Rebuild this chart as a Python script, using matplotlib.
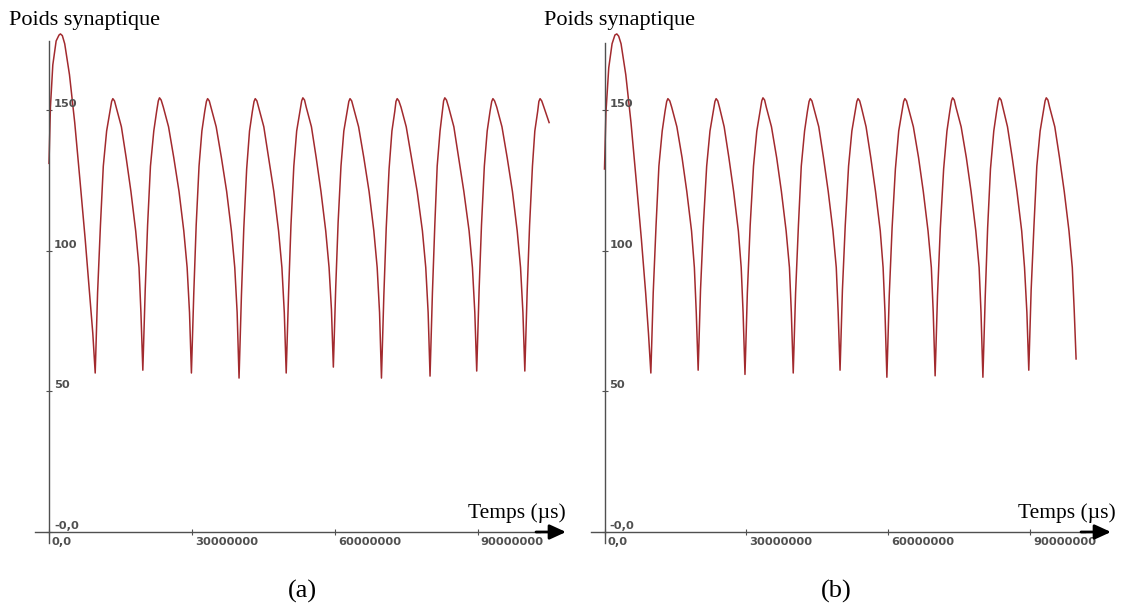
import numpy as np
import matplotlib
matplotlib.use("Agg")
import matplotlib.pyplot as plt
from matplotlib.patches import FancyArrowPatch

# ---- data: synaptic weight versus time (time in millions of microseconds) ----
t_a = [0.0, 0.3, 0.8, 1.5, 2.1, 2.4, 2.8, 3.3, 4.3, 5.4, 6.5, 7.6, 8.5, 9.2, 9.7,
       10.2, 10.8, 11.4, 12.1, 12.8, 13.15, 13.4, 13.75, 14.1, 15.2, 16.2, 17.2, 18.2, 18.9, 19.3, 19.7,
       20.2, 20.7, 21.3, 22.0, 22.6, 22.95, 23.2, 23.55, 24.0, 25.1, 26.2, 27.3, 28.3, 29.0, 29.5, 29.9,
       30.4, 30.9, 31.5, 32.1, 32.7, 33.05, 33.3, 33.65, 34.0, 35.1, 36.2, 37.3, 38.3, 39.0, 39.5, 39.9,
       40.4, 40.9, 41.5, 42.1, 42.7, 43.05, 43.3, 43.65, 44.0, 45.1, 46.1, 47.2, 48.2, 48.9, 49.4, 49.8,
       50.3, 50.8, 51.4, 52.0, 52.7, 53.05, 53.3, 53.65, 54.0, 55.1, 56.1, 57.1, 58.1, 58.8, 59.3, 59.7,
       60.2, 60.7, 61.3, 61.9, 62.6, 62.95, 63.2, 63.55, 63.9, 65.0, 66.1, 67.2, 68.2, 68.9, 69.4, 69.8,
       70.3, 70.8, 71.4, 72.0, 72.6, 72.85, 73.1, 73.45, 73.9, 75.0, 76.1, 77.3, 78.4, 79.1, 79.6, 80.0,
       80.5, 81.0, 81.5, 82.1, 82.6, 82.85, 83.1, 83.45, 83.9, 85.0, 86.0, 87.1, 88.2, 88.9, 89.4, 89.8,
       90.3, 90.8, 91.4, 92.0, 92.6, 92.95, 93.2, 93.55, 94.0, 95.1, 96.2, 97.3, 98.3, 99.0, 99.5, 99.9,
       100.4, 100.9, 101.5, 102.0, 102.6, 102.85, 103.1, 103.45, 103.9, 105.0]
w_a = [131, 151, 166, 174.5, 176.6, 177, 176.4, 173.5, 162.5, 145.5, 125, 104, 85, 70.5, 56.5,
       85, 109, 130, 142.5, 149.5, 153, 154, 153.2, 151, 144, 133, 121, 107, 94, 78, 57.5,
       86, 109, 130, 142.5, 149.5, 153.2, 154.3, 153.5, 151, 144, 133, 121, 107, 94, 78, 56.5,
       85, 109, 130, 142.5, 149.5, 153, 154, 153.2, 151, 144, 133, 121, 107, 94, 78, 54.7,
       84, 108, 129, 142.5, 149.5, 153, 154, 153.2, 151, 144, 133, 121, 107, 94, 78, 56.5,
       85, 109, 130, 142.5, 149.5, 153.2, 154.3, 153.5, 151, 144, 133, 121, 107, 94, 79, 58.6,
       87, 110, 130, 142.5, 149.5, 153, 154, 153.2, 151, 144, 133, 121, 107, 94, 78, 54.7,
       84, 108, 129, 142.5, 149.5, 153, 154, 153.2, 151, 144, 133, 121, 107, 94, 78, 55.4,
       85, 109, 130, 142.5, 149.5, 153.2, 154.3, 153.5, 151, 144, 133, 121, 107, 94, 78, 57.2,
       86, 109, 130, 142.5, 149.5, 153, 154, 153.2, 151, 144, 133, 121, 107, 94, 78, 57.2,
       86, 109, 130, 142.5, 149.5, 153, 154, 153.2, 151, 145.5]

t_b = [0.0, 0.3, 0.9, 1.6, 2.2, 2.6, 3.0, 3.5, 4.5, 5.6, 6.7, 7.8, 8.7, 9.3, 9.8,
       10.3, 10.9, 11.5, 12.2, 12.8, 13.15, 13.4, 13.8, 14.2, 15.3, 16.4, 17.4, 18.4, 19.0, 19.4, 19.8,
       20.3, 20.9, 21.6, 22.3, 23.0, 23.35, 23.6, 23.95, 24.3, 25.3, 26.3, 27.3, 28.3, 28.9, 29.3, 29.7,
       30.2, 30.8, 31.5, 32.2, 32.9, 33.25, 33.5, 33.85, 34.2, 35.3, 36.4, 37.4, 38.4, 39.1, 39.5, 39.9,
       40.4, 41.0, 41.6, 42.3, 42.9, 43.25, 43.5, 43.85, 44.2, 45.3, 46.3, 47.3, 48.3, 49.0, 49.4, 49.8,
       50.3, 50.9, 51.6, 52.3, 53.0, 53.35, 53.6, 53.95, 54.3, 55.3, 56.3, 57.3, 58.3, 58.9, 59.3, 59.7,
       60.2, 60.8, 61.5, 62.2, 62.9, 63.25, 63.5, 63.85, 64.2, 65.3, 66.4, 67.4, 68.4, 69.1, 69.5, 69.9,
       70.4, 71.0, 71.7, 72.4, 73.0, 73.35, 73.6, 73.95, 74.3, 75.4, 76.5, 77.5, 78.5, 79.2, 79.6, 80.0,
       80.5, 81.0, 81.6, 82.3, 82.9, 83.25, 83.5, 83.85, 84.2, 85.2, 86.2, 87.2, 88.2, 88.8, 89.3, 89.7,
       90.2, 90.8, 91.4, 92.1, 92.8, 93.15, 93.4, 93.75, 94.1, 95.2, 96.2, 97.2, 98.2, 98.9, 99.3, 99.7]
w_b = [129, 149, 165, 173.5, 176.6, 177, 176.2, 173.5, 162.5, 145.5, 125, 104, 85, 70.5, 56.5,
       85, 109, 130, 142.5, 149.5, 153, 154, 153.2, 151, 144, 133, 121, 107, 94, 78, 57.5,
       86, 109, 130, 142.5, 149.5, 153, 154, 153.2, 151, 144, 133, 121, 107, 94, 78, 56,
       85, 109, 130, 142.5, 149.5, 153.2, 154.3, 153.5, 151, 144, 133, 121, 107, 94, 78, 56.5,
       85, 109, 130, 142.5, 149.5, 153, 154, 153.2, 151, 144, 133, 121, 107, 94, 78, 57.5,
       86, 109, 130, 142.5, 149.5, 153, 154, 153.2, 151, 144, 133, 121, 107, 94, 78, 55,
       84, 108, 129, 142.5, 149.5, 153, 154, 153.2, 151, 144, 133, 121, 107, 94, 78, 55.5,
       84, 108, 129, 142.5, 149.5, 153.2, 154.3, 153.5, 151, 144, 133, 121, 107, 94, 78, 55,
       84, 108, 129, 142.5, 149.5, 153.2, 154.3, 153.5, 151, 144, 133, 121, 107, 94, 78, 57.5,
       86, 109, 130, 142.5, 149.5, 153.2, 154.3, 153.5, 151, 144, 133, 121, 107, 94, 79, 61.5]

x_ticks = [0, 30e6, 60e6, 90e6]
x_tick_labels = ["0,0", "30000000", "60000000", "90000000"]
y_ticks = [0, 50, 100, 150]
y_tick_labels = ["-0,0", "50", "100", "150"]

y_title = "Poids synaptique"
x_title = "Temps (\u00b5s)"
panel_tags = ["(a)", "(b)"]

# ---- layout (pixels) ----
W, H = 1126, 610
Y_ZERO_PX = 532.0
PX_PER_UNIT = 2.814
SERIF = "Liberation Serif"
AXIS_GREY = "#505050"
CURVE = "#a22a2e"

fig = plt.figure(figsize=(W / 100, H / 100), dpi=100)
fig.patch.set_facecolor("white")


def draw_panel(t, w, x0_px, px_per_Mus, x_end_px, y_top_px, title_x, xlabel_x, tag_x, tag):
    ax = fig.add_axes([0, 0, 1, 1])
    ax.patch.set_visible(False)
    ax.set_xlim(-x0_px / px_per_Mus * 1e6, (W - x0_px) / px_per_Mus * 1e6)
    ax.set_ylim((Y_ZERO_PX - H) / PX_PER_UNIT, Y_ZERO_PX / PX_PER_UNIT)

    def px_to_t(px):
        return (px - x0_px) / px_per_Mus * 1e6

    def px_to_w(py):
        return (Y_ZERO_PX - py) / PX_PER_UNIT

    for s in ("top", "right"):
        ax.spines[s].set_visible(False)
    ax.spines["left"].set_position(("data", 0))
    ax.spines["bottom"].set_position(("data", 0))
    ax.spines["left"].set_bounds(px_to_w(543), px_to_w(y_top_px))
    ax.spines["bottom"].set_bounds(px_to_t(x0_px - 14), px_to_t(x_end_px))
    for s in ("left", "bottom"):
        ax.spines[s].set_color(AXIS_GREY)
        ax.spines[s].set_linewidth(1.0)

    ax.set_xticks(x_ticks)
    ax.set_yticks(y_ticks)
    ax.tick_params(direction="inout", length=5, width=0.8, color=AXIS_GREY,
                   labelbottom=False, labelleft=False)

    ax.plot(np.asarray(t) * 1e6, w, color=CURVE, lw=1.1, solid_joinstyle="round")

    lab = dict(family="DejaVu Sans", fontsize=8.2, fontweight="bold", color="#505050")
    for xv, s in zip(x_ticks, x_tick_labels):
        ax.annotate(s, xy=(xv, 0), xytext=(3, -5), textcoords="offset pixels",
                    ha="left", va="top", **lab)
    for yv, s in zip(y_ticks, y_tick_labels):
        ax.annotate(s, xy=(0, yv), xytext=(5, 3), textcoords="offset pixels",
                    ha="left", va="baseline", **lab)

    # axis arrow
    fig.add_artist(FancyArrowPatch(
        (x_end_px - 4, H - Y_ZERO_PX), (x_end_px + 26, H - Y_ZERO_PX),
        transform=None, arrowstyle="-|>,head_length=7,head_width=3.2",
        mutation_scale=1.4, shrinkA=0, shrinkB=0, color="black", lw=2.0))

    fig.text(title_x / W, 1 - 25 / H, y_title, family=SERIF, fontsize=16,
             ha="left", va="baseline", color="black")
    fig.text(xlabel_x / W, 1 - 518 / H, x_title, family=SERIF, fontsize=15.5,
             ha="left", va="baseline", color="black")
    fig.text(tag_x / W, 1 - 598 / H, tag, family=SERIF, fontsize=19,
             ha="center", va="baseline", color="black")
    return ax


draw_panel(t_a, w_a, 49.0, 4.763, 540, 41, 9, 468, 302, panel_tags[0])
draw_panel(t_b, w_b, 604.5, 4.73, 1085, 43, 544, 1018, 836, panel_tags[1])

fig.savefig("out.png", dpi=100, facecolor="white")
